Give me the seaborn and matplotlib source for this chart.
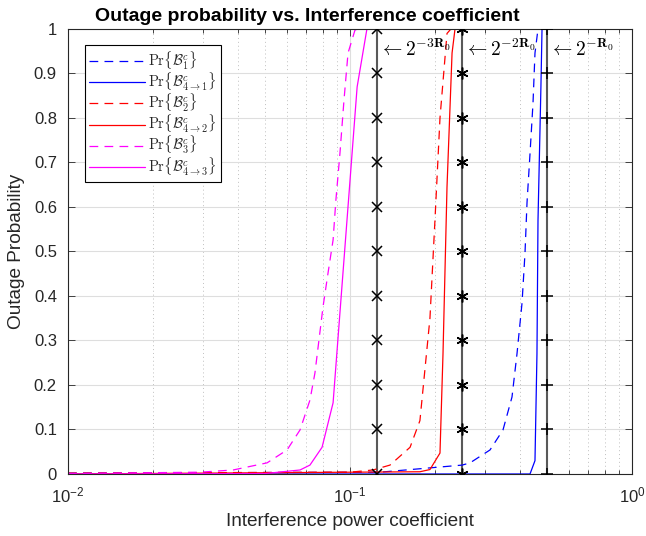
import numpy as np
import pandas as pd
import seaborn as sns
import matplotlib
matplotlib.use('Agg')
import matplotlib.pyplot as plt
from matplotlib.font_manager import FontProperties

# curves (x = interference power coefficient, y = outage probability)
b1_x = [0.01, 0.1277, 0.25, 0.2665, 0.3137, 0.3488, 0.3754, 0.391, 0.4074, 0.4175, 0.4244, 0.4349, 0.4457, 0.4529, 0.4642, 1.0]
b1_y = [0.002, 0.004, 0.02, 0.025, 0.054, 0.099, 0.173, 0.27, 0.384, 0.497, 0.61, 0.72, 0.834, 0.946, 1.0, 1.0]
b41_x = [0.01, 0.4349, 0.4529, 0.4603, 0.4642, 0.4754, 0.4797, 1.0]
b41_y = [0.0, 0.0, 0.03, 0.27, 0.57, 0.87, 1.0, 1.0]
b2_x = [0.01, 0.1, 0.1207, 0.1386, 0.1633, 0.177, 0.1921, 0.2001, 0.2085, 0.2208, 0.228, 1.0]
b2_y = [0.002, 0.004, 0.009, 0.02, 0.06, 0.12, 0.35, 0.57, 0.8, 0.99, 1.0, 1.0]
b42_x = [0.01, 0.177, 0.1921, 0.2085, 0.2137, 0.2208, 0.2301, 0.2357, 1.0]
b42_y = [0.0, 0.005, 0.01, 0.047, 0.27, 0.645, 0.946, 1.0, 1.0]
b3_x = [0.01, 0.0294, 0.0385, 0.0508, 0.0598, 0.0665, 0.0721, 0.0751, 0.0802, 0.0835, 0.0871, 0.0891, 0.0921, 0.0952, 0.0984, 0.1042, 0.113, 1.0]
b3_y = [0.001, 0.004, 0.009, 0.025, 0.054, 0.099, 0.166, 0.227, 0.375, 0.45, 0.526, 0.615, 0.72, 0.84, 0.946, 0.998, 1.0, 1.0]
b43_x = [0.01, 0.05, 0.0665, 0.0721, 0.0796, 0.0871, 0.106, 0.1148, 1.0]
b43_y = [0.0, 0.001, 0.009, 0.02, 0.06, 0.16, 0.87, 1.0, 1.0]

# threshold lines 2^-3R0, 2^-2R0, 2^-R0 (R0 = 1)
thr_x = [0.125, 0.25, 0.5]
thr_labels = [r'$\leftarrow\mathbf{2^{-3R_0}}$', r'$\leftarrow\mathbf{2^{-2R_0}}$', r'$\leftarrow\mathbf{2^{-R_0}}$']
thr_markers = ['x', (6, 2, 0), '+']
thr_sizes = [6.5, 8.5, 9]
mark_y = [0, 0.1, 0.2, 0.3, 0.4, 0.5, 0.6, 0.7, 0.8, 0.9, 1.0]
ytick_labels = ['0', '0.1', '0.2', '0.3', '0.4', '0.5', '0.6', '0.7', '0.8', '0.9', '1']

series = [
    (b1_x, b1_y, r'$\mathrm{Pr}\{\mathcal{B}_1^c\}$', 'blue', True),
    (b41_x, b41_y, r'$\mathrm{Pr}\{\mathcal{B}_{4\to1}^c\}$', 'blue', False),
    (b2_x, b2_y, r'$\mathrm{Pr}\{\mathcal{B}_2^c\}$', 'red', True),
    (b42_x, b42_y, r'$\mathrm{Pr}\{\mathcal{B}_{4\to2}^c\}$', 'red', False),
    (b3_x, b3_y, r'$\mathrm{Pr}\{\mathcal{B}_3^c\}$', 'magenta', True),
    (b43_x, b43_y, r'$\mathrm{Pr}\{\mathcal{B}_{4\to3}^c\}$', 'magenta', False),
]

sns.set_theme(style='ticks')
plt.rcParams['font.family'] = ['Liberation Sans', 'DejaVu Sans']
plt.rcParams['mathtext.fontset'] = 'custom'
plt.rcParams['mathtext.rm'] = 'Liberation Sans'
plt.rcParams['mathtext.it'] = 'Liberation Sans:italic'
plt.rcParams['mathtext.bf'] = 'Liberation Sans:bold'

fig = plt.figure(figsize=(6.46, 5.36), dpi=100)
ax = fig.add_axes([0.1053, 0.1157, 0.873, 0.8302])

for xs, ys, lab, col, dashed in series:
    df = pd.DataFrame({'x': xs, 'y': ys})
    sns.lineplot(data=df, x='x', y='y', ax=ax, color=col, lw=0.9,
                 label=lab, estimator=None, sort=False)
    if dashed:
        ax.lines[-1].set_dashes((7, 5))

for tx, tl, mk, ms in zip(thr_x, thr_labels, thr_markers, thr_sizes):
    ax.plot([tx] * len(mark_y), mark_y, color='0.35', lw=1.5, zorder=1)
    ax.plot([tx] * len(mark_y), mark_y, ls='none', marker=mk, color='black',
            ms=ms, mew=1.1, zorder=4)
    ax.text(tx * 1.012, 0.955, tl, fontsize=14, va='center', ha='left',
            math_fontfamily='cm', color='black')

ax.set_xscale('log')
ax.set_xlim(0.01, 1)
ax.set_ylim(0, 1)
ax.set_yticks(mark_y)
ax.set_yticklabels(ytick_labels)
ax.grid(True, which='major', color='0.87', lw=0.8)
ax.grid(True, which='minor', axis='x', color='0.75', ls=(0, (1, 3)), lw=0.7)
ax.set_axisbelow(True)
ax.tick_params(which='both', direction='in', top=True, right=True, colors='#262626',
               labelsize=12, width=0.6)
ax.tick_params(which='major', length=5)
ax.tick_params(which='minor', length=3)
ax.tick_params(axis='x', which='major', pad=8)
ax.tick_params(axis='y', which='major', pad=8)
for sp in ax.spines.values():
    sp.set_color('#262626')
    sp.set_linewidth(0.8)

ax.set_xlabel('Interference power coefficient', fontsize=13.7, color='#262626', labelpad=6)
ax.set_ylabel('Outage Probability', fontsize=13.7, color='#262626', labelpad=6)
fig.text(307.5 / 646, (536 - 21) / 536, 'Outage probability vs. Interference coefficient',
         fontsize=14, fontweight='bold', ha='center', va='baseline', color='black')

leg = ax.legend(loc='upper left', bbox_to_anchor=(0.03, 0.964), borderaxespad=0,
                fancybox=False, framealpha=1, edgecolor='black', handlelength=3.8,
                labelspacing=-0.1, borderpad=0.3, handletextpad=0.25,
                prop=FontProperties(size=10.5, math_fontfamily='cm'))
leg.get_frame().set_linewidth(0.8)

fig.savefig('out.png', dpi=100)
